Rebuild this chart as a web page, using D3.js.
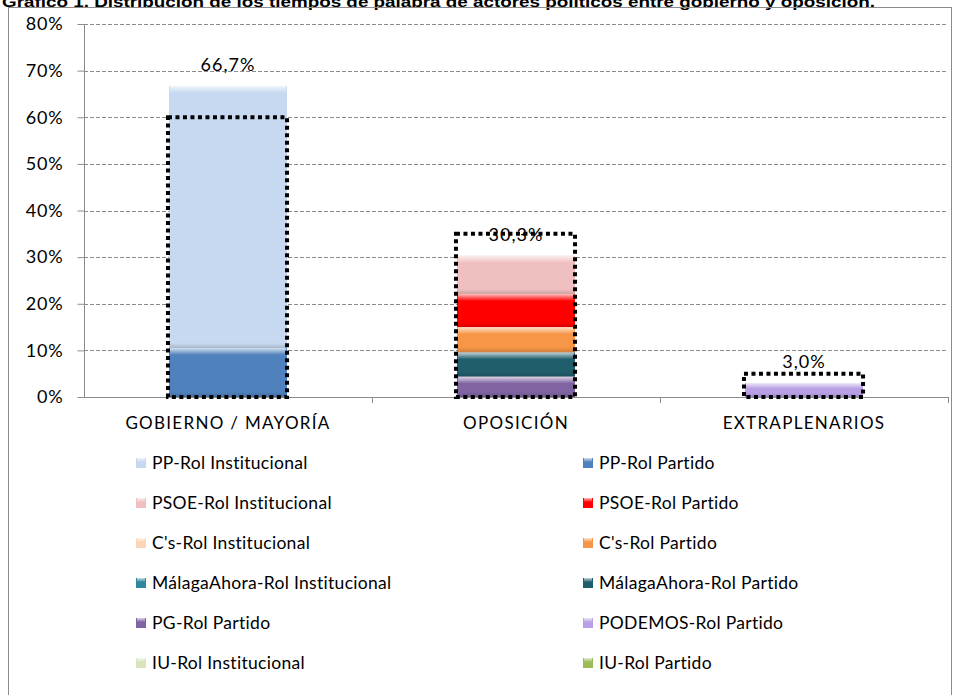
<!DOCTYPE html>
<html><head><meta charset="utf-8">
<script src="https://cdn.jsdelivr.net/npm/d3@7/dist/d3.min.js"></script>
<style>body{margin:0;background:#fff}svg{display:block}</style>
</head><body>
<svg id="c" width="960" height="695"></svg>
<script>
const categories = ["GOBIERNO / MAYORÍA", "OPOSICIÓN", "EXTRAPLENARIOS"];
const seriesNames = ["PP-Rol Institucional", "PP-Rol Partido", "PSOE-Rol Institucional", "PSOE-Rol Partido",
  "C's-Rol Institucional", "C's-Rol Partido", "MálagaAhora-Rol Institucional", "MálagaAhora-Rol Partido",
  "PG-Rol Partido", "PODEMOS-Rol Partido", "IU-Rol Institucional", "IU-Rol Partido"];
const seriesColors = ["#c6d9f1", "#4f81bd", "#f0c0c0", "#ff0000", "#fcd5b5", "#f79646", "#31859c", "#215e6c",
  "#8064a2", "#b9a0e6", "#d7e4bd", "#9bbb59"];
// values in % per category [Gobierno, Oposición, Extraplenarios]
const ppInst = [56.2, 0, 0];
const ppPartido = [10.5, 0, 0];
const psoeInst = [0, 8.2, 0];
const psoePartido = [0, 7.1, 0];
const csInst = [0, 0, 0];
const csPartido = [0, 5.4, 0];
const maInst = [0, 0, 0];
const maPartido = [0, 5.2, 0];
const pgPartido = [0, 4.4, 0];
const podemosPartido = [0, 0, 3.0];
const iuInst = [0, 0, 0];
const iuPartido = [0, 0, 0];
const totalLabels = ["66,7%", "30,3%", "3,0%"];
const referenceShare = [60, 35, 5];
const yTicks = [0, 10, 20, 30, 40, 50, 60, 70, 80];
const title = "Gráfico 1. Distribución de los tiempos de palabra de actores políticos entre gobierno y oposición.";

const seriesValues = [ppInst, ppPartido, psoeInst, psoePartido, csInst, csPartido, maInst, maPartido,
  pgPartido, podemosPartido, iuInst, iuPartido];

const svg = d3.select("#c");
const font = "Lato, 'Open Sans', sans-serif";

// defs: bevel highlight gradient
const defs = svg.append("defs");
const g1 = defs.append("linearGradient").attr("id", "hl").attr("x1", 0).attr("y1", 0).attr("x2", 0).attr("y2", 1);
g1.append("stop").attr("offset", "0%").attr("stop-color", "#fff").attr("stop-opacity", 0.75);
g1.append("stop").attr("offset", "100%").attr("stop-color", "#fff").attr("stop-opacity", 0);
const g2 = defs.append("linearGradient").attr("id", "sd").attr("x1", 0).attr("y1", 0).attr("x2", 0).attr("y2", 1);
g2.append("stop").attr("offset", "0%").attr("stop-color", "#000").attr("stop-opacity", 0);
g2.append("stop").attr("offset", "100%").attr("stop-color", "#000").attr("stop-opacity", 0.15);

// title (clipped at top, as in the reference)
svg.append("text").attr("x", 2).attr("y", 7).attr("font-family", "'Liberation Sans', Arial, sans-serif")
  .attr("font-weight", "bold").attr("font-size", 15).attr("textLength", 873).attr("lengthAdjust", "spacingAndGlyphs")
  .attr("fill", "#000").text(title);

// frame
svg.append("rect").attr("x", 8.5).attr("y", 7.5).attr("width", 943).attr("height", 700)
  .attr("fill", "none").attr("stroke", "#8c8c8c").attr("stroke-width", 1);

const x0 = 84, x1 = 948, yTop = 24, yBase = 397;
const x = d3.scaleBand().domain(categories).range([x0, x1]).padding(0);
const y = d3.scaleLinear().domain([0, 80]).range([yBase, yTop]);
const barW = x.bandwidth() * 0.41;

// gridlines
svg.append("g").selectAll("line").data(yTicks.filter(t => t > 0)).join("line")
  .attr("x1", x0).attr("x2", x1).attr("y1", d => Math.round(y(d)) + 0.5).attr("y2", d => Math.round(y(d)) + 0.5)
  .attr("stroke", "#8c8c8c").attr("stroke-dasharray", "4,2").attr("stroke-width", 1);

// y axis
const yAxis = svg.append("g").attr("transform", `translate(${x0 + 0.5},0)`)
  .call(d3.axisLeft(y).tickValues(yTicks).tickFormat(d => d + "%").tickSize(7).tickPadding(14));
yAxis.select(".domain").attr("stroke", "#8c8c8c").attr("d", `M-0,${yTop}V${yBase}`);
yAxis.selectAll(".tick line").attr("stroke", "#8c8c8c");
yAxis.selectAll(".tick text").attr("font-family", font).attr("font-size", 18).attr("letter-spacing", 0.8).attr("fill", "#000");

// x axis
const xAxis = svg.append("g").attr("transform", `translate(0,${yBase + 0.5})`)
  .call(d3.axisBottom(x).tickSize(0).tickPadding(19));
xAxis.select(".domain").attr("stroke", "#8c8c8c").attr("d", `M${x0},0H${x1}`);
xAxis.selectAll(".tick text").attr("font-family", font).attr("font-size", 17).attr("letter-spacing", 1.3).attr("fill", "#000");
// category boundary ticks
svg.append("g").selectAll("line").data(categories).join("line")
  .attr("x1", d => Math.round(x(d) + x.bandwidth()) + 0.5).attr("x2", d => Math.round(x(d) + x.bandwidth()) + 0.5)
  .attr("y1", yBase).attr("y2", yBase + 6).attr("stroke", "#8c8c8c");

// stacked bars (last series at bottom)
const rows = categories.map((c, i) => {
  const r = { cat: c };
  seriesNames.forEach((s, k) => r[s] = seriesValues[k][i]);
  return r;
});
const keys = seriesNames.slice().reverse();
const stacked = d3.stack().keys(keys)(rows);
const gBars = svg.append("g");
stacked.forEach(layer => {
  const color = seriesColors[seriesNames.indexOf(layer.key)];
  layer.forEach(seg => {
    const h = y(seg[0]) - y(seg[1]);
    if (h <= 0.01) return;
    const bx = x(seg.data.cat) + (x.bandwidth() - barW) / 2;
    const by = y(seg[1]);
    gBars.append("rect").attr("x", bx).attr("y", by).attr("width", barW).attr("height", h).attr("fill", color);
    const hh = Math.min(7, h * 0.4);
    gBars.append("rect").attr("x", bx + 1).attr("y", by).attr("width", barW - 2).attr("height", hh).attr("fill", "url(#hl)");
    const sh = Math.min(5, h * 0.3);
    gBars.append("rect").attr("x", bx).attr("y", by + h - sh).attr("width", barW).attr("height", sh).attr("fill", "url(#sd)");
  });
});

// reference dotted rectangles
svg.append("g").selectAll("rect").data(categories).join("rect")
  .attr("x", (d) => x(d) + (x.bandwidth() - barW) / 2 - 1)
  .attr("y", (d, i) => y(referenceShare[i]))
  .attr("width", barW + 1)
  .attr("height", (d, i) => yBase - y(referenceShare[i]))
  .attr("fill", "none").attr("stroke", "#000").attr("stroke-width", 4).attr("stroke-dasharray", "4,3.5");

// total labels
const totals = rows.map(r => d3.sum(seriesNames, s => r[s]));
svg.append("g").selectAll("text").data(categories).join("text")
  .attr("x", d => x(d) + x.bandwidth() / 2).attr("y", (d, i) => y(totals[i]) - 15)
  .attr("text-anchor", "middle").attr("font-family", font).attr("font-size", 18).attr("letter-spacing", 1)
  .attr("fill", "#000").text((d, i) => totalLabels[i]);

// legend
const legCols = [136, 583], legY0 = 463, legDy = 40;
const leg = svg.append("g").selectAll("g").data(seriesNames).join("g")
  .attr("transform", (d, i) => `translate(${legCols[i % 2]},${legY0 + Math.floor(i / 2) * legDy})`);
leg.append("rect").attr("x", 0).attr("y", -5).attr("width", 10).attr("height", 10)
  .attr("fill", (d, i) => seriesColors[i]);
leg.append("rect").attr("x", 1).attr("y", -5).attr("width", 8).attr("height", 4).attr("fill", "url(#hl)");
leg.append("text").attr("x", 16).attr("y", 0).attr("dy", "0.35em").attr("font-family", font).attr("font-size", 17.5)
  .attr("letter-spacing", 0.3).attr("fill", "#000").text(d => d);
</script>
</body></html>
